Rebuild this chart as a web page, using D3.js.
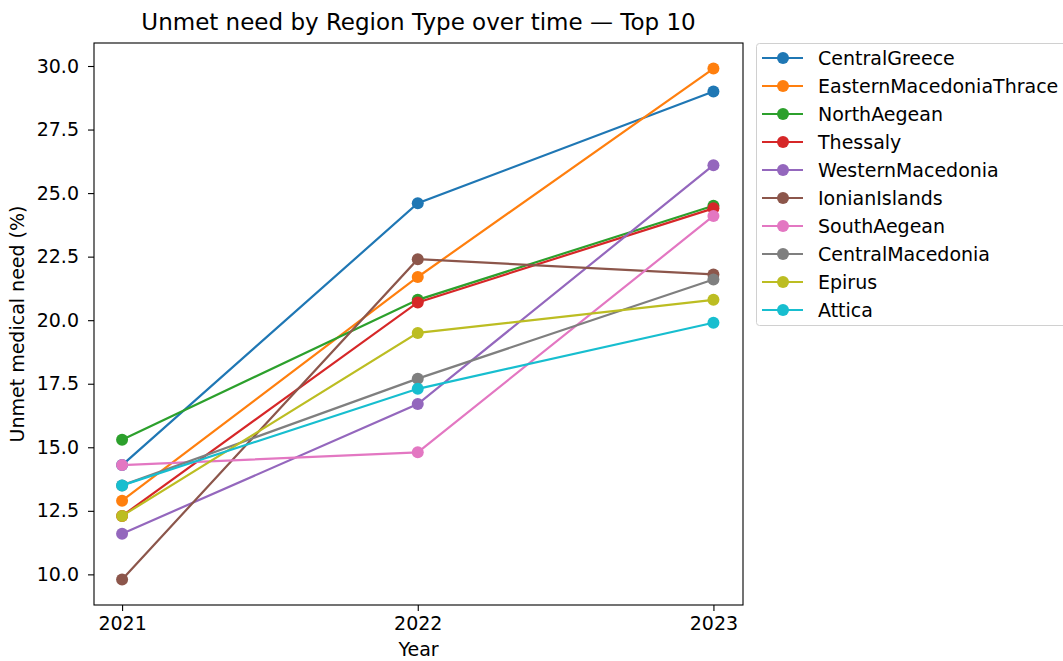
<!DOCTYPE html>
<html>
<head>
<meta charset="utf-8">
<script src="https://cdn.jsdelivr.net/npm/d3@7"></script>
<style>
  html, body { margin: 0; padding: 0; background: #fff; }
  svg { display: block; font-family: "DejaVu Sans", sans-serif; }
</style>
</head>
<body>
<svg id="chart" width="1063" height="661"></svg>
<script>
// Years on the x axis
const years = [2021, 2022, 2023];

// Region names, in legend order
const regions = [
  "CentralGreece", "EasternMacedoniaThrace", "NorthAegean", "Thessaly",
  "WesternMacedonia", "IonianIslands", "SouthAegean", "CentralMacedonia",
  "Epirus", "Attica"
];

// Unmet medical need (%) per region, one value per year
const centralGreece          = [14.3, 24.6, 29.0];
const easternMacedoniaThrace = [12.9, 21.7, 29.9];
const northAegean            = [15.3, 20.8, 24.5];
const thessaly               = [12.3, 20.7, 24.4];
const westernMacedonia       = [11.6, 16.7, 26.1];
const ionianIslands          = [9.8, 22.4, 21.8];
const southAegean            = [14.3, 14.8, 24.1];
const centralMacedonia       = [13.5, 17.7, 21.6];
const epirus                 = [12.3, 19.5, 20.8];
const attica                 = [13.5, 17.3, 19.9];

// Y axis tick labels
const yTicks = [10.0, 12.5, 15.0, 17.5, 20.0, 22.5, 25.0, 27.5, 30.0];

const seriesValues = [
  centralGreece, easternMacedoniaThrace, northAegean, thessaly,
  westernMacedonia, ionianIslands, southAegean, centralMacedonia,
  epirus, attica
];

const colors = d3.schemeCategory10;

const series = regions.map((name, i) => ({
  name,
  color: colors[i],
  points: years.map((y, j) => ({ year: y, value: seriesValues[i][j] }))
}));

const svg = d3.select("#chart");
const plot = { left: 94, right: 743, top: 43, bottom: 605 };

// Domains padded like the default autoscale margins
const allVals = seriesValues.flat();
const vMin = d3.min(allVals), vMax = d3.max(allVals);
const vPad = (vMax - vMin) * 0.05;
const x = d3.scaleLinear()
  .domain([2021 - 0.095, 2023 + 0.1])
  .range([plot.left, plot.right]);
const y = d3.scaleLinear()
  .domain([vMin - vPad, vMax + vPad])
  .range([plot.bottom, plot.top]);

const tickFont = 19;

// X axis
const xAxis = svg.append("g")
  .attr("transform", `translate(0,${plot.bottom})`)
  .call(d3.axisBottom(x).tickValues(years).tickFormat(d3.format("d")).tickSize(6).tickPadding(6));
// Y axis
const yAxis = svg.append("g")
  .attr("transform", `translate(${plot.left},0)`)
  .call(d3.axisLeft(y).tickValues(yTicks).tickFormat(d3.format(".1f")).tickSize(6).tickPadding(9));

[xAxis, yAxis].forEach(g => {
  g.select(".domain").remove();
  g.selectAll("line").attr("stroke", "#000").attr("stroke-width", 1.1);
  g.selectAll("text").attr("fill", "#000").style("font-size", tickFont + "px")
    .style("font-family", "'DejaVu Sans', sans-serif");
});

// Frame around the plot area
svg.append("rect")
  .attr("x", plot.left).attr("y", plot.top)
  .attr("width", plot.right - plot.left).attr("height", plot.bottom - plot.top)
  .attr("fill", "none").attr("stroke", "#000").attr("stroke-width", 1.1);

// Lines and markers
const line = d3.line().x(d => x(d.year)).y(d => y(d.value));
const gSeries = svg.append("g");
series.forEach(s => {
  const g = gSeries.append("g");
  g.append("path")
    .attr("d", line(s.points))
    .attr("fill", "none")
    .attr("stroke", s.color)
    .attr("stroke-width", 2.2);
  g.selectAll("circle").data(s.points).join("circle")
    .attr("cx", d => x(d.year))
    .attr("cy", d => y(d.value))
    .attr("r", 6)
    .attr("fill", s.color);
});

// Title and axis labels
svg.append("text")
  .attr("x", (plot.left + plot.right) / 2).attr("y", 30)
  .attr("text-anchor", "middle")
  .style("font-size", "23px")
  .text("Unmet need by Region Type over time — Top 10");

svg.append("text")
  .attr("x", (plot.left + plot.right) / 2).attr("y", 656)
  .attr("text-anchor", "middle")
  .style("font-size", tickFont + "px")
  .text("Year");

svg.append("text")
  .attr("transform", `translate(24,${(plot.top + plot.bottom) / 2}) rotate(-90)`)
  .attr("text-anchor", "middle")
  .style("font-size", tickFont + "px")
  .text("Unmet medical need (%)");

// Legend
const legend = svg.append("g").attr("transform", "translate(756,43)");
const rowH = 28;
legend.append("rect")
  .attr("x", 0.5).attr("y", 0.5)
  .attr("width", 320).attr("height", 10 * rowH + 2)
  .attr("rx", 3)
  .attr("fill", "#fff").attr("stroke", "#d0d0d0").attr("stroke-width", 1);
const items = legend.selectAll("g.item").data(series).join("g")
  .attr("class", "item")
  .attr("transform", (d, i) => `translate(0,${15 + i * rowH})`);
items.append("line")
  .attr("x1", 6).attr("x2", 47)
  .attr("stroke", d => d.color).attr("stroke-width", 2.2);
items.append("circle")
  .attr("cx", 27).attr("r", 6).attr("fill", d => d.color);
items.append("text")
  .attr("x", 62).attr("dy", "0.35em")
  .style("font-size", tickFont + "px")
  .text(d => d.name);
</script>
</body>
</html>
